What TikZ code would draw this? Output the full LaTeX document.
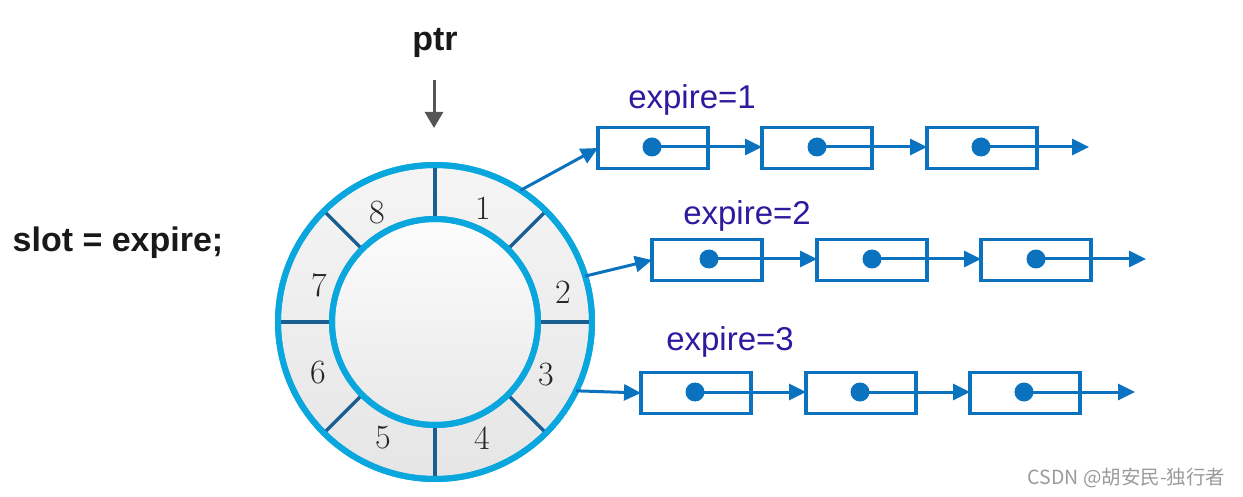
\documentclass[tikz,border=0pt]{standalone}
\usepackage{fontspec}
\newfontfamily\arial{Liberation Sans}
\newfontfamily\cjk{Noto Sans CJK SC}
\usetikzlibrary{arrows.meta}
\definecolor{ringc}{HTML}{0AA6DE}
\definecolor{divc}{HTML}{1B5F92}
\definecolor{lc}{HTML}{0A72BE}
\definecolor{expc}{HTML}{2E1A9E}
\definecolor{ptrc}{HTML}{555555}
\definecolor{wmc}{HTML}{9A9A9A}
\tikzset{
  nodebox/.style={draw=lc, line width=3.2pt, minimum width=110pt, minimum height=41pt, inner sep=0pt, outer sep=0pt},
  dotnode/.style={circle, fill=lc, minimum size=19pt, inner sep=0pt, outer sep=0pt},
  larrow/.style={draw=lc, line width=3pt, -{Triangle[length=17pt,width=16pt]}},
  divline/.style={draw=divc, line width=3.2pt},
  numtxt/.style={font=\fontsize{34}{38}\selectfont, text=black!85},
  exptxt/.style={font=\arial\fontsize{33}{38}\selectfont, text=expc},
  boldtxt/.style={font=\arial\bfseries\fontsize{34}{40}\selectfont, text=black!90},
}
\begin{document}
\begin{tikzpicture}[x=1pt,y=-1pt]
\useasboundingbox (0,0) rectangle (1243,497);
% wheel
\node[circle, minimum size=314pt, inner sep=0pt, outer sep=0pt, draw=ringc, line width=6pt, top color=white!96!black, bottom color=white!90!black] (outer) at (435,322) {};
\node[circle, minimum size=206pt, inner sep=0pt, outer sep=0pt, draw=ringc, line width=6pt, top color=white!99!black, bottom color=white!91!black] (inner) at (435,322) {};
\foreach \a in {0,45,90,135,180,225,270,315}{
  \draw[divline] (inner.\a) -- (outer.\a);
}
\draw[draw=ringc, line width=6pt] (outer) circle (157);
\draw[draw=ringc, line width=6pt] (inner) circle (103);
% numbers
\node[numtxt] (n1) at (483,208) {1};
\node[numtxt] (n2) at (563,292) {2};
\node[numtxt] (n3) at (546,375) {3};
\node[numtxt] (n4) at (482,438) {4};
\node[numtxt] (n5) at (383,438) {5};
\node[numtxt] (n6) at (318,373) {6};
\node[numtxt] (n7) at (319,285) {7};
\node[numtxt] (n8) at (377,213) {8};
% ptr
\node[boldtxt] (ptr) at (435,43) {ptr};
\coordinate (ptrs) at (434,80);
\coordinate (ptre) at (434,128);
\draw[draw=ptrc, line width=3pt, -{Triangle[length=16pt,width=18pt]}] (ptrs) -- (ptre);
% slot text
\node[boldtxt] (slot) at (118,243) {slot = expire;};
% row 1
\node[exptxt] (e1) at (692,100) {expire=1};
\node[nodebox] (r1b1) at (653,148) {};
\node[nodebox] (r1b2) at (817,148) {};
\node[nodebox] (r1b3) at (982,148) {};
\node[dotnode] (r1d1) at (652,147) {};
\node[dotnode] (r1d2) at (817,147) {};
\node[dotnode] (r1d3) at (981,147) {};
\coordinate (r1end) at (1089,147);
\draw[larrow] (r1d1.center) -- (r1b2.west |- r1d1);
\draw[larrow] (r1d2.center) -- (r1b3.west |- r1d2);
\draw[larrow] (r1d3.center) -- (r1end);
\draw[larrow] (outer.57) -- (r1b1.west);
% row 2
\node[exptxt] (e2) at (747,216) {expire=2};
\node[nodebox] (r2b1) at (707,260) {};
\node[nodebox] (r2b2) at (872,260) {};
\node[nodebox] (r2b3) at (1036,260) {};
\node[dotnode] (r2d1) at (709,259) {};
\node[dotnode] (r2d2) at (872,259) {};
\node[dotnode] (r2d3) at (1036,259) {};
\coordinate (r2end) at (1146,259);
\draw[larrow] (r2d1.center) -- (r2b2.west |- r2d1);
\draw[larrow] (r2d2.center) -- (r2b3.west |- r2d2);
\draw[larrow] (r2d3.center) -- (r2end);
\draw[larrow] (outer.17.5) -- (r2b1.west);
% row 3
\node[exptxt] (e3) at (730,342) {expire=3};
\node[nodebox] (r3b1) at (696,393) {};
\node[nodebox] (r3b2) at (861,393) {};
\node[nodebox] (r3b3) at (1025,393) {};
\node[dotnode] (r3d1) at (695,392) {};
\node[dotnode] (r3d2) at (860,392) {};
\node[dotnode] (r3d3) at (1024,392) {};
\coordinate (r3end) at (1135,392);
\draw[larrow] (r3d1.center) -- (r3b2.west |- r3d1);
\draw[larrow] (r3d2.center) -- (r3b3.west |- r3d2);
\draw[larrow] (r3d3.center) -- (r3end);
\draw[larrow] (outer.-26) -- (r3b1.west);
% watermark
\node[font=\cjk\fontsize{19.5}{23}\selectfont, text=wmc, anchor=east] (wm) at (1229,478) {CSDN @胡安民-独行者};
\end{tikzpicture}
\end{document}
